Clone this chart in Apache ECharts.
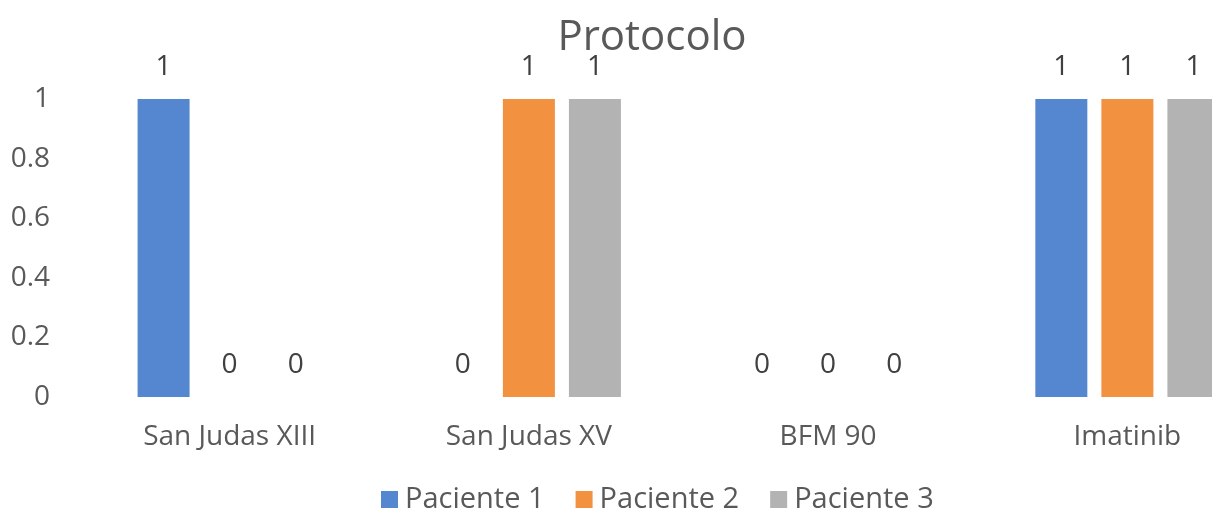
<!DOCTYPE html>
<html>
<head>
<meta charset="utf-8">
<script src="https://cdn.jsdelivr.net/npm/echarts@6/dist/echarts.min.js"></script>
<style>
  html, body { margin: 0; padding: 0; overflow: hidden; background: #fff; }
  #chart { width: 1304px; height: 515px; }
</style>
</head>
<body>
<div id="chart"></div>
<script>
const categories = ['San Judas XIII', 'San Judas XV', 'BFM 90', 'Imatinib'];
const paciente1 = [1, 0, 0, 1];
const paciente2 = [0, 1, 0, 1];
const paciente3 = [0, 1, 0, 1];
const yTicks = [0, 0.2, 0.4, 0.6, 0.8, 1];

const FONT = '"Open Sans", "Noto Sans", sans-serif';
const TEXT = '#595959';

function bar(name, data, color) {
  return {
    name, type: 'bar', data,
    barWidth: 52, barGap: '27%',
    itemStyle: { color },
    label: {
      show: true, position: 'top', distance: 18,
      color: '#404040', fontFamily: FONT, fontSize: 28
    }
  };
}

const chart = echarts.init(document.getElementById('chart'));
chart.setOption({
  animation: false,
  title: {
    text: 'Protocolo', left: 'center', top: 12,
    textStyle: { fontFamily: FONT, fontSize: 42, fontWeight: 'normal', color: TEXT }
  },
  legend: {
    bottom: -4, left: 376, itemWidth: 17, itemHeight: 17, itemGap: 31,
    icon: 'rect',
    textStyle: { fontFamily: FONT, fontSize: 29, color: TEXT, padding: [0, 0, 0, 2] }
  },
  grid: { left: 80, right: 27, top: 99, bottom: 118 },
  xAxis: {
    type: 'category', data: categories,
    axisLine: { show: false }, axisTick: { show: false },
    axisLabel: { fontFamily: FONT, fontSize: 28, color: TEXT, margin: 26 }
  },
  yAxis: {
    type: 'value', min: yTicks[0], max: yTicks[yTicks.length - 1], interval: 0.2,
    splitLine: { show: false }, axisLine: { show: false }, axisTick: { show: false },
    axisLabel: { fontFamily: FONT, fontSize: 28, color: TEXT, margin: 30 }
  },
  series: [
    bar('Paciente 1', paciente1, '#5587D1'),
    bar('Paciente 2', paciente2, '#F29140'),
    bar('Paciente 3', paciente3, '#B3B3B3')
  ]
});
</script>
</body>
</html>
